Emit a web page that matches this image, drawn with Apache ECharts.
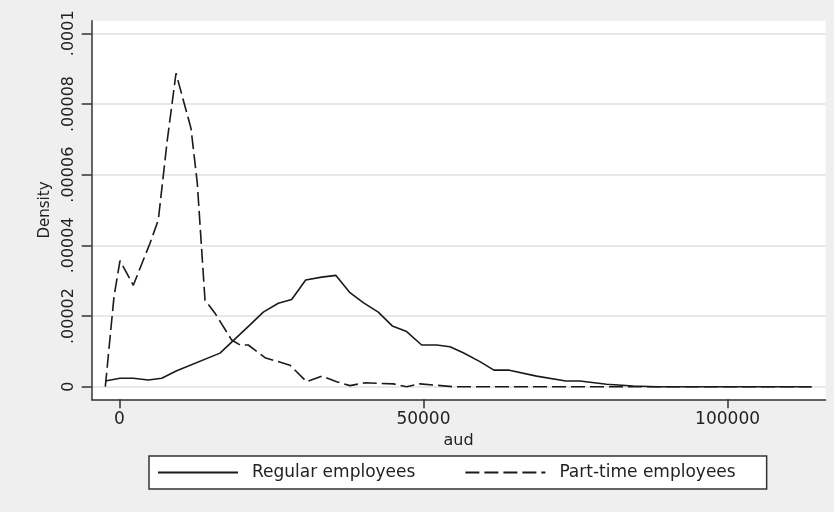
<!DOCTYPE html>
<html>
<head>
<meta charset="utf-8">
<script src="https://cdn.jsdelivr.net/npm/echarts@6/dist/echarts.min.js"></script>
<style>html,body{margin:0;padding:0;background:#efefef}#c{width:834px;height:512px}</style>
</head>
<body>
<div id="c"></div>
<script>
// Regular employees density (kdensity curve)
var regX = [-2301, 115, 2301, 4767, 6969, 9434, 16552, 21480, 23669, 26134, 28337, 30638, 33268, 35618, 37919, 40105, 42571, 44872, 47239, 49704, 52170, 54356, 56542, 59287, 61588, 63938, 68606, 73422, 75723, 80112, 84484, 88330, 113807];
var regY = [0.0000016, 0.0000024, 0.0000024, 0.0000019, 0.0000024, 0.0000045, 0.0000095, 0.0000175, 0.0000211, 0.0000236, 0.0000247, 0.0000302, 0.0000310, 0.0000315, 0.0000266, 0.0000238, 0.0000211, 0.0000172, 0.0000156, 0.0000118, 0.0000118, 0.0000113, 0.0000096, 0.0000071, 0.0000047, 0.0000047, 0.0000030, 0.0000016, 0.0000016, 0.0000007, 0.0000002, 0, 0];
// Part-time employees density
var ptX = [-2301, -871, 115, 2301, 5046, 6410, 7890, 9320, 11785, 12821, 14086, 15730, 18475, 19839, 21203, 23948, 28057, 30802, 33268, 35733, 37919, 40385, 45036, 47239, 49424, 54898, 113807];
var ptY = [0, 0.0000255, 0.0000357, 0.0000287, 0.0000406, 0.0000472, 0.0000698, 0.0000887, 0.0000731, 0.0000576, 0.0000245, 0.0000208, 0.0000132, 0.0000118, 0.0000118, 0.0000082, 0.0000061, 0.0000014, 0.0000030, 0.0000014, 0.0000003, 0.0000011, 0.0000008, 0, 0.0000008, 0, 0];
// Axis ticks
var xTickValues = [0, 50000, 100000];
var xTickLabels = ['0', '50000', '100000'];
var yTickValues = [0, 0.00002, 0.00004, 0.00006, 0.00008, 0.0001];
var yTickLabels = ['0', '.00002', '.00004', '.00006', '.00008', '.0001'];
var seriesNames = ['Regular employees', 'Part-time employees'];

function pairs(xs, ys) { return xs.map(function (x, i) { return [x, ys[i]]; }); }
function lookup(vals, labels, v) {
  for (var i = 0; i < vals.length; i++) {
    if (Math.abs(vals[i] - v) <= Math.abs(vals[vals.length - 1]) * 1e-6) return labels[i];
  }
  return '';
}

var FONT = 'DejaVu Sans';
var AX = '#333333';
var chart = echarts.init(document.getElementById('c'), null, {renderer: 'canvas'});
chart.setOption({
  animation: false,
  backgroundColor: '#efefef',
  textStyle: {fontFamily: FONT},
  grid: [
    {left: 91.7, right: 8.5, top: 20.7, bottom: 112.7, show: true, backgroundColor: '#ffffff', borderWidth: 0, containLabel: false},
    {left: 91.7, right: 8.5, top: 33.3, bottom: 125.3, show: false, containLabel: false}
  ],
  xAxis: [
    {
      type: 'value', gridIndex: 0, min: -4540, max: 116100,
      name: 'aud', nameLocation: 'middle', nameGap: 27,
      nameTextStyle: {fontFamily: FONT, fontSize: 16, color: '#222'},
      axisLine: {show: true, onZero: false, lineStyle: {color: AX, width: 1.5}},
      axisTick: {show: true, length: 9, customValues: xTickValues, lineStyle: {color: AX, width: 1.5}},
      axisLabel: {show: true, customValues: xTickValues, margin: 12, fontFamily: FONT, fontSize: 17, color: '#222',
        formatter: function (v) { return lookup(xTickValues, xTickLabels, v); }},
      splitLine: {show: false}
    },
    {
      type: 'value', gridIndex: 1, min: -4540, max: 116100, show: false
    }
  ],
  yAxis: [
    {
      type: 'value', gridIndex: 0, min: -0.000003565, max: 0.000103567,
      name: 'Density', nameLocation: 'middle', nameGap: 39, nameRotate: 90,
      nameTextStyle: {fontFamily: FONT, fontSize: 15, color: '#222'},
      axisLine: {show: true, onZero: false, lineStyle: {color: AX, width: 1.5}},
      axisTick: {show: true, length: 10, customValues: yTickValues, lineStyle: {color: AX, width: 1.5}},
      axisLabel: {show: true, customValues: yTickValues, rotate: 90, margin: 15, fontFamily: FONT, fontSize: 16, color: '#222',
        formatter: function (v) { return lookup(yTickValues, yTickLabels, v); }},
      splitLine: {show: false}
    },
    {
      type: 'value', gridIndex: 1, min: 0, max: 0.0001, interval: 0.00002,
      axisLine: {show: false}, axisTick: {show: false}, axisLabel: {show: false},
      splitLine: {show: true, lineStyle: {color: '#e0e0e0', width: 1.5}}
    }
  ],
  legend: {
    show: true,
    left: 149, top: 456,
    orient: 'horizontal',
    backgroundColor: '#ffffff',
    borderColor: '#333333', borderWidth: 1.5, borderRadius: 0,
    padding: [8, 31, 8, 8],
    itemWidth: 80, itemHeight: 14, itemGap: 49,
    itemStyle: {opacity: 0},
    textStyle: {fontFamily: FONT, fontSize: 17, color: '#222', padding: [0, 0, 0, 9]},
    data: [seriesNames[0], seriesNames[1]]
  },
  series: [
    {
      name: seriesNames[0], type: 'line', xAxisIndex: 0, yAxisIndex: 0,
      data: pairs(regX, regY), symbol: 'none', showSymbol: false,
      lineStyle: {color: '#1a1a1a', width: 1.6, type: 'solid'},
      itemStyle: {color: '#1a1a1a'}, z: 5
    },
    {
      name: seriesNames[1], type: 'line', xAxisIndex: 0, yAxisIndex: 0,
      data: pairs(ptX, ptY), symbol: 'none', showSymbol: false,
      lineStyle: {color: '#1a1a1a', width: 1.6, type: [14, 5]},
      itemStyle: {color: '#1a1a1a'}, z: 5
    }
  ]
});
</script>
</body>
</html>
